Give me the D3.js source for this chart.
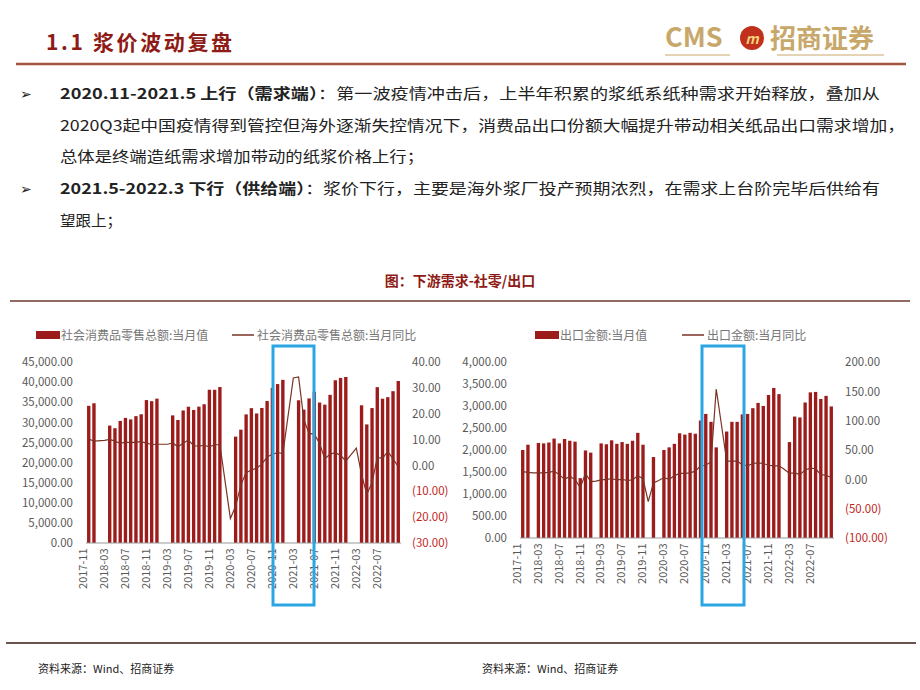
<!DOCTYPE html>
<html><head><meta charset="utf-8">
<script src="https://cdn.jsdelivr.net/npm/d3@7"></script>
<style>body{margin:0;background:#fff}svg{display:block}</style>
</head><body><svg id="c" width="920" height="690"></svg>
<script>
// ---- data ----
const months = [];
for (let i = 0; i < 60; i++) { const y = 2017 + Math.floor((10 + i) / 12), m = (10 + i) % 12 + 1; months.push(y + "-" + String(m).padStart(2, "0")); }
const tickMonths = ["2017-11","2018-03","2018-07","2018-11","2019-03","2019-07","2019-11","2020-03","2020-07","2020-11","2021-03","2021-07","2021-11","2022-03","2022-07"];
const retailValue = [34108,34734,null,null,29194,28542,30359,31098,30734,31542,32005,35534,35260,35893,
 null,null,31726,30586,32956,33878,33073,33896,34495,38104,38094,38777,
 null,null,26450,28178,31973,33526,32203,33571,35295,38576,39514,40566,
 null,null,35484,33153,35945,37586,34925,34395,36833,40454,41043,41269,
 null,null,34233,29483,33547,38742,35870,36258,37745,40271];
const retailYoY = [10.2,9.4,null,9.7,10.1,9.4,8.5,9.0,8.8,9.0,9.2,8.6,8.1,8.2,
 null,8.2,8.7,7.2,8.6,9.8,7.6,7.5,7.8,7.2,8.0,8.0,
 null,-20.5,-15.8,-7.5,-2.8,-1.8,-1.1,0.5,3.3,4.3,5.0,4.6,
 null,33.8,34.2,17.7,12.4,12.1,8.5,2.5,4.4,4.9,3.9,1.7,
 null,6.7,-3.5,-11.1,-6.7,3.1,2.7,5.4,2.5,-0.5];
const exportValue = [2000,2120,null,2160,2150,2170,2260,2150,2250,2210,2190,1360,1990,1940,
 null,2150,2130,2220,2140,2180,2140,2210,2390,2120,null,1840,
 null,2000,2060,2140,2380,2350,2390,2370,2670,2820,2640,2060,
 null,2420,2640,2640,2810,2820,2950,3070,3000,3250,3410,3270,
 null,2180,2760,2740,3080,3310,3320,3160,3230,2990];
const exportYoY = [13,12,11,11,11,12,14,8,0,5,0,-14,10,-4,
 -3,-1,0,1,-1,0,-2,-1,6,1,-38,-6,
 -2,3,0,6,10,10,11,14,23,24,30,154,
 93,31,31,31,25,23,27,28,27,24,23,23,
 17,10,11,8,16,19,18,8,7,3];
const retailLeftTicks = d3.range(0, 45001, 5000);
const retailRightTicks = d3.range(-30, 41, 10);
const exportLeftTicks = d3.range(0, 4001, 500);
const exportRightTicks = d3.range(-100, 201, 50);
const legendRetail = ["社会消费品零售总额:当月值", "社会消费品零售总额:当月同比"];
const legendExport = ["出口金额:当月值", "出口金额:当月同比"];

// ---- drawing ----
const svg = d3.select("#c");
const FONT = "'Noto Sans CJK SC','Noto Sans',sans-serif";
const RED = "#8e1b16", BAR = "#9c1c1c", LINE = "#7a3326", GRAY = "#595959";

// header
svg.append("text").attr("x", 46).attr("y", 50).attr("font-family", FONT).attr("font-size", 21).attr("font-weight", "bold").attr("fill", RED)
  .attr("textLength", 186).attr("lengthAdjust", "spacing").text("1.1 浆价波动复盘");
svg.append("line").attr("x1", 16).attr("x2", 906).attr("y1", 64).attr("y2", 64).attr("stroke", "#a5553f").attr("stroke-width", 2.5);
const logo = svg.append("g").attr("font-family", FONT);
logo.append("text").attr("x", 665).attr("y", 47).attr("font-size", 27).attr("font-weight", "bold").attr("fill", "#c8a86a").text("CMS");
logo.append("circle").attr("cx", 752).attr("cy", 38).attr("r", 12).attr("fill", "#c0301c");
logo.append("text").attr("x", 752).attr("y", 44).attr("text-anchor", "middle").attr("font-size", 14).attr("font-weight", "bold").attr("font-style", "italic").attr("fill", "#f4d27a").text("m");
logo.append("text").attr("x", 770).attr("y", 48).attr("font-size", 26).attr("font-weight", "bold").attr("fill", "#c8a86a").text("招商证券");
logo.append("line").attr("x1", 665).attr("x2", 730).attr("y1", 55).attr("y2", 55).attr("stroke", "#c8a86a");
logo.append("line").attr("x1", 777).attr("x2", 884).attr("y1", 55).attr("y2", 55).attr("stroke", "#c8a86a");

const para = [
  {y: 99, len: 820, bullet: true, parts: [["2020.11-2021.5 上行（需求端）", true], ["：第一波疫情冲击后，上半年积累的浆纸系纸种需求开始释放，叠加从", false]]},
  {y: 131, len: 845, parts: [["2020Q3起中国疫情得到管控但海外逐渐失控情况下，消费品出口份额大幅提升带动相关纸品出口需求增加，", false]]},
  {y: 162, len: 364, parts: [["总体是终端造纸需求增加带动的纸浆价格上行；", false]]},
  {y: 194, len: 820, bullet: true, parts: [["2021.5-2022.3 下行（供给端）", true], ["：浆价下行，主要是海外浆厂投产预期浓烈，在需求上台阶完毕后供给有", false]]},
  {y: 226, len: 62, parts: [["望跟上；", false]]}
];
para.forEach(p => {
  if (p.bullet) svg.append("text").attr("x", 20).attr("y", p.y).attr("font-size", 14).attr("font-family", FONT).attr("fill", "#222").text("➢");
  const t = svg.append("text").attr("x", 60).attr("y", p.y).attr("font-family", FONT).attr("font-size", 15).attr("fill", "#222")
    .attr("textLength", p.len).attr("lengthAdjust", "spacingAndGlyphs");
  p.parts.forEach(([s, b]) => t.append("tspan").attr("font-weight", b ? "bold" : "normal").text(s));
});

// chart caption + frames
svg.append("text").attr("x", 460).attr("y", 286).attr("text-anchor", "middle").attr("font-family", FONT).attr("font-size", 14).attr("font-weight", "bold").attr("fill", RED).text("图：下游需求-社零/出口");
svg.append("line").attr("x1", 10).attr("x2", 910).attr("y1", 301).attr("y2", 301).attr("stroke", "#6b3a2c").attr("stroke-width", 1.5);
svg.append("line").attr("x1", 6).attr("x2", 916).attr("y1", 643).attr("y2", 643).attr("stroke", "#3a1a12").attr("stroke-width", 1.5);
[38, 482].forEach(x => svg.append("text").attr("x", x).attr("y", 673).attr("font-family", FONT).attr("font-size", 11).attr("fill", "#222").text("资料来源：Wind、招商证券"));

function fmt(v) { const s = d3.format(",.2f")(Math.abs(v)); return v < 0 ? "(" + s + ")" : s; }

function chart(o) {
  const g = svg.append("g").attr("font-family", FONT);
  const x = d3.scaleBand().domain(months).range([o.x0, o.x1]).paddingInner(0.36).paddingOuter(0.2);
  const yL = d3.scaleLinear().domain(o.lDom).range([o.yb, o.yt]);
  const yR = d3.scaleLinear().domain(o.rDom).range([o.yb, o.yt]);
  g.selectAll("rect.b").data(months.map((m, i) => ({m, v: o.bars[i]})).filter(d => d.v != null)).join("rect")
    .attr("x", d => x(d.m)).attr("width", x.bandwidth()).attr("y", d => yL(d.v)).attr("height", d => yL(0) - yL(d.v)).attr("fill", BAR);
  g.append("line").attr("x1", o.x0).attr("x2", o.x1).attr("y1", o.yb).attr("y2", o.yb).attr("stroke", "#999");
  const pts = months.map((m, i) => ({m, v: o.line[i]})).filter(d => d.v != null);
  g.append("path").datum(pts).attr("fill", "none").attr("stroke", LINE).attr("stroke-width", 1.2)
    .attr("d", d3.line().x(d => x(d.m) + x.bandwidth() / 2).y(d => yR(d.v)));
  const aL = g.append("g").attr("transform", `translate(${o.x0 - 10},0)`)
    .call(d3.axisLeft(yL).tickValues(o.lTicks).tickFormat(fmt).tickSize(0));
  aL.select(".domain").remove();
  aL.selectAll("text").attr("fill", GRAY).attr("font-size", 11.5).attr("font-family", FONT);
  const aR = g.append("g").attr("transform", `translate(${o.x1 + 8},0)`)
    .call(d3.axisRight(yR).tickValues(o.rTicks).tickFormat(fmt).tickSize(0));
  aR.select(".domain").remove();
  aR.selectAll("text").attr("fill", d => d < 0 ? "#c0261c" : GRAY).attr("font-size", 11.5).attr("font-family", FONT);
  const aX = g.append("g").attr("transform", `translate(0,${o.yb})`)
    .call(d3.axisBottom(x).tickValues(tickMonths).tickSize(0));
  aX.select(".domain").remove();
  aX.selectAll("text").attr("fill", GRAY).attr("font-size", 11).attr("font-family", FONT)
    .attr("transform", "rotate(-90)").attr("text-anchor", "end").attr("dx", "-0.5em").attr("dy", "-0.45em");
  const lg = g.append("g").attr("font-size", 12).attr("fill", "#666");
  lg.append("rect").attr("x", o.lg[0]).attr("y", o.lgY - 4).attr("width", 24).attr("height", 8).attr("fill", BAR);
  lg.append("text").attr("x", o.lg[0] + 25).attr("y", o.lgY + 4.5).attr("fill", "#777").text(o.legend[0]);
  lg.append("line").attr("x1", o.lg[1]).attr("x2", o.lg[1] + 22).attr("y1", o.lgY).attr("y2", o.lgY).attr("stroke", LINE).attr("stroke-width", 1.5);
  lg.append("text").attr("x", o.lg[1] + 25).attr("y", o.lgY + 4.5).attr("fill", "#777").text(o.legend[1]);
  g.append("rect").attr("x", o.box[0]).attr("y", 346).attr("width", o.box[1] - o.box[0]).attr("height", 259)
    .attr("fill", "none").attr("stroke", "#2ba6e3").attr("stroke-width", 3);
}

chart({x0: 86, x1: 401, yb: 543, yt: 362, lDom: [0, 45000], rDom: [-30, 40],
  bars: retailValue, line: retailYoY, lTicks: retailLeftTicks, rTicks: retailRightTicks,
  legend: legendRetail, lg: [36, 232], lgY: 335, box: [273, 314]});
chart({x0: 520, x1: 834, yb: 538, yt: 362, lDom: [0, 4000], rDom: [-100, 200],
  bars: exportValue, line: exportYoY, lTicks: exportLeftTicks, rTicks: exportRightTicks,
  legend: legendExport, lg: [535, 682], lgY: 335, box: [702, 744]});
</script></body></html>
